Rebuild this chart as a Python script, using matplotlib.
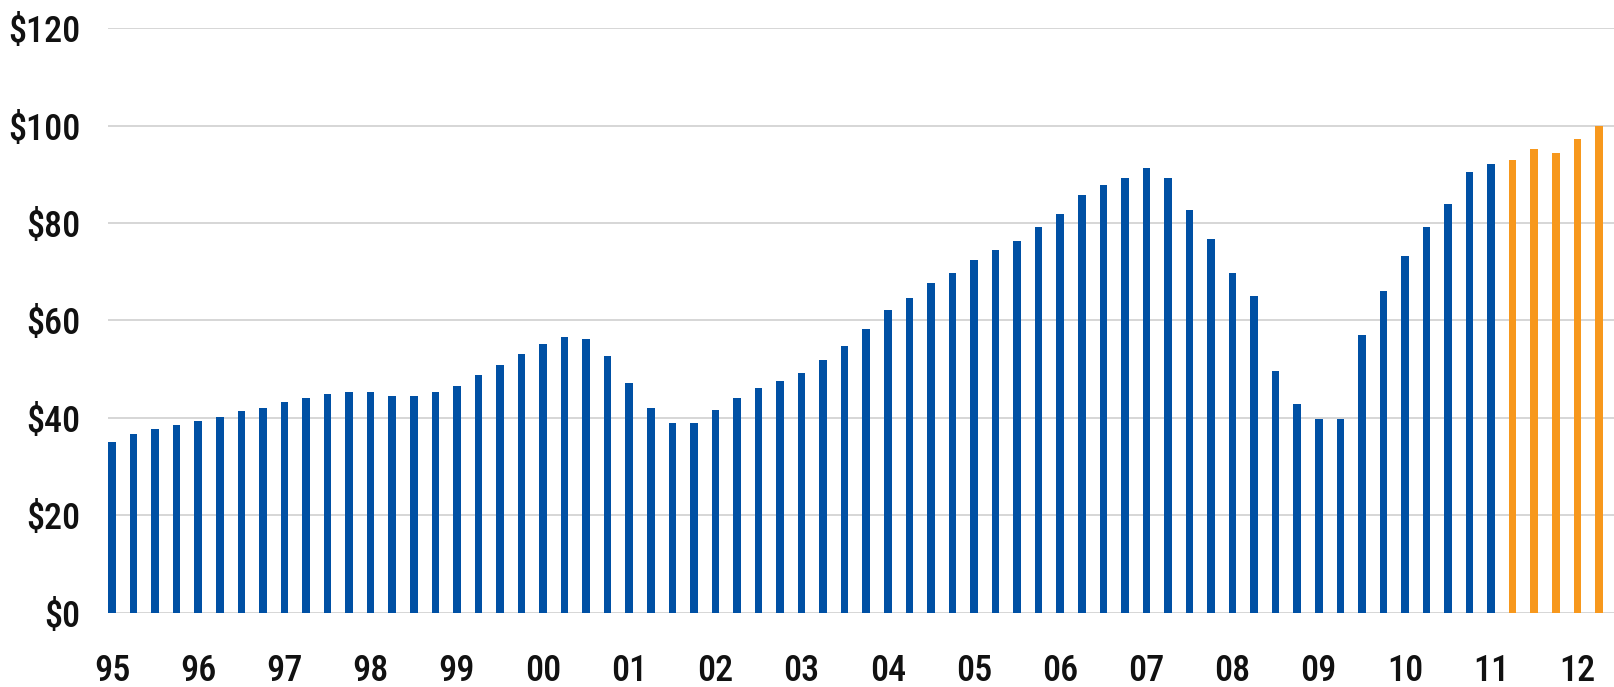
import matplotlib
matplotlib.use('Agg')
import matplotlib.pyplot as plt
import numpy as np

# quarterly values, 1995Q1 .. 2011Q1 actual, 2011Q2 .. 2012Q2 forecast
actual = [
    35.0, 36.6, 37.7, 38.5,   # 95
    39.3, 40.2, 41.4, 42.0,   # 96
    43.2, 44.1, 44.9, 45.3,   # 97
    45.3, 44.5, 44.5, 45.3,   # 98
    46.5, 48.8, 50.9, 53.1,   # 99
    55.2, 56.6, 56.2, 52.7,   # 00
    47.2, 42.0, 39.0, 39.0,   # 01
    41.6, 44.1, 46.1, 47.5,   # 02
    49.2, 51.9, 54.7, 58.2,   # 03
    62.1, 64.6, 67.7, 69.8,   # 04
    72.5, 74.5, 76.3, 79.2,   # 05
    81.9, 85.8, 87.9, 89.3,   # 06
    91.4, 89.3, 82.7, 76.8,   # 07
    69.8, 65.0, 49.6, 42.9,   # 08
    39.8, 39.8, 57.0, 66.1,   # 09
    73.3, 79.2, 83.9, 90.5,   # 10
    92.2,                     # 11Q1
]
forecast = [93.0, 95.2, 94.4, 97.3, 99.9]
year_labels = ['95', '96', '97', '98', '99', '00', '01', '02', '03', '04',
               '05', '06', '07', '08', '09', '10', '11', '12']
y_ticks = [0, 20, 40, 60, 80, 100, 120]

blue = '#0050A4'
orange = '#F7981D'
font = ['Liberation Sans Narrow', 'Roboto Condensed', 'Liberation Sans', 'DejaVu Sans']

fig = plt.figure(figsize=(16.14, 6.87), dpi=100)
ax = fig.add_axes([0.0669, 0.1084, 0.9331, 0.8504])

x_act = np.arange(len(actual))
x_fc = np.arange(len(actual), len(actual) + len(forecast))
ax.bar(x_act, actual, width=0.35, color=blue, zorder=2)
ax.bar(x_fc, forecast, width=0.35, color=orange, zorder=2)

ax.set_ylim(0, 120)
ax.set_xlim(-0.19, 69.7)
ax.set_yticks(y_ticks)
ax.set_yticklabels([f'${v}' for v in y_ticks])
ax.set_xticks(np.arange(0, len(year_labels) * 4, 4))
ax.set_xticklabels(year_labels)

ax.grid(axis='y', color='#D0D0D0', linewidth=1.2, zorder=0)
ax.set_axisbelow(True)
for s in ax.spines.values():
    s.set_visible(False)
ax.tick_params(axis='both', length=0, colors='#111111')
ax.tick_params(axis='y', pad=20)
ax.tick_params(axis='x', pad=29)
for lbl in ax.get_xticklabels() + ax.get_yticklabels():
    lbl.set_family(font)
    lbl.set_fontsize(26)
    lbl.set_weight('medium')

fig.savefig('out.png', dpi=100)
